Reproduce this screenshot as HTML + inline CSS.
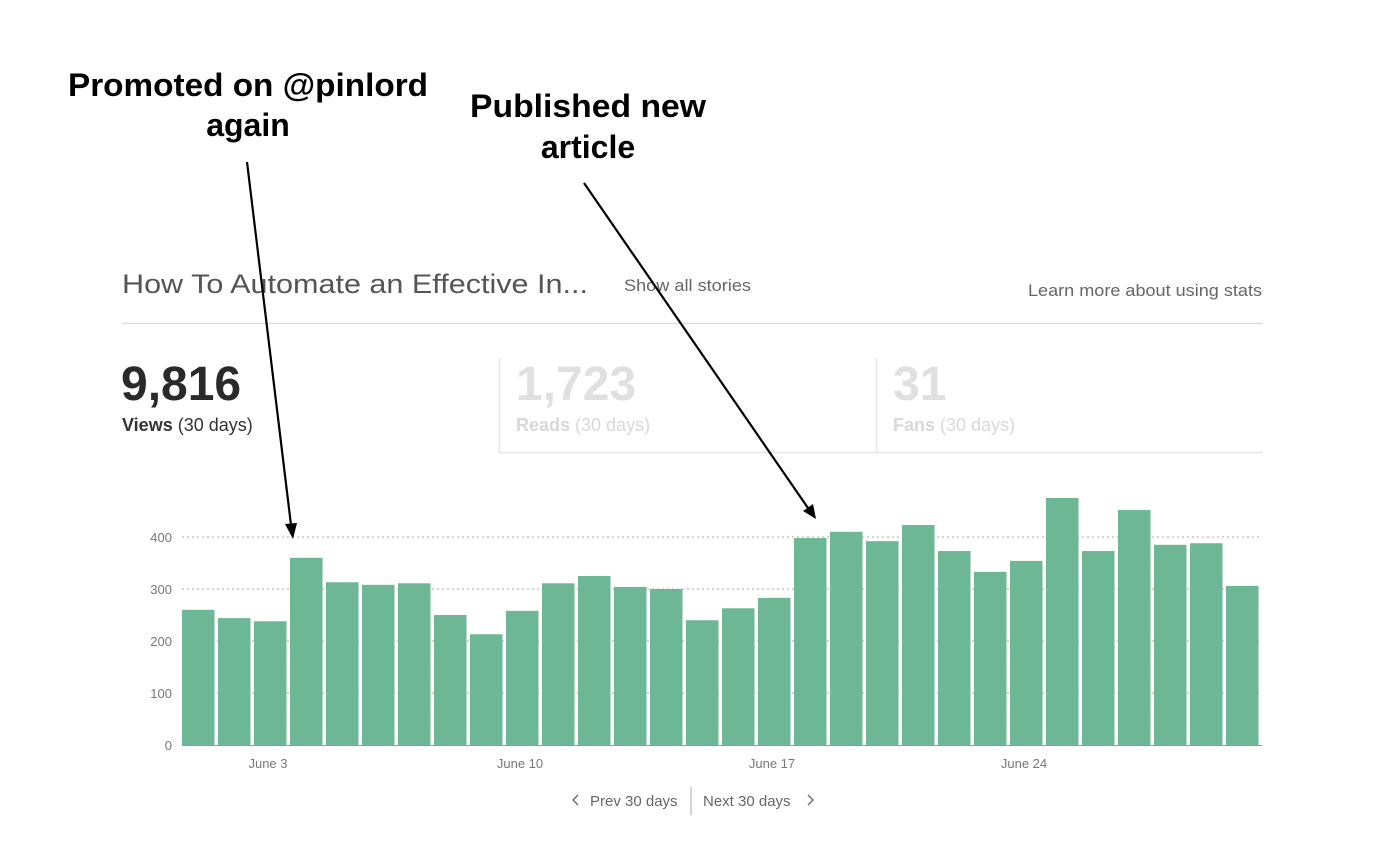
<!DOCTYPE html>
<html><head><meta charset="utf-8"><style>
html,body{margin:0;padding:0;background:#fff;}
svg{display:block;}
</style></head><body>
<svg width="1400" height="846" viewBox="0 0 1400 846" xmlns="http://www.w3.org/2000/svg" font-family="Liberation Sans, sans-serif">
<rect width="1400" height="846" fill="#fff"/>
<text x="122" y="293" font-size="27" fill="#555" textLength="466" lengthAdjust="spacingAndGlyphs">How To Automate an Effective In...</text>
<text x="624" y="291" font-size="17" fill="#666" textLength="127" lengthAdjust="spacingAndGlyphs">Show all stories</text>
<text x="1028" y="296" font-size="17" fill="#666" textLength="234" lengthAdjust="spacingAndGlyphs">Learn more about using stats</text>
<line x1="122" y1="323.5" x2="1263" y2="323.5" stroke="#ddd" stroke-width="1.5"/>
<text x="121" y="400" font-size="48" font-weight="bold" fill="#2a2a2a">9,816</text>
<text x="122" y="431" font-size="18" fill="#333"><tspan font-weight="bold">Views</tspan> (30 days)</text>
<path d="M499.5 358 V452.5 H1263 M876.5 358 V452" stroke="#e6e6e6" stroke-width="1.5" fill="none"/>
<text x="516" y="400" font-size="48" font-weight="bold" fill="#e0e0e0">1,723</text>
<text x="516" y="431" font-size="18" fill="#d8d8d8"><tspan font-weight="bold">Reads</tspan> (30 days)</text>
<text x="893" y="400" font-size="48" font-weight="bold" fill="#e0e0e0">31</text>
<text x="893" y="431" font-size="18" fill="#d8d8d8"><tspan font-weight="bold">Fans</tspan> (30 days)</text>
<g stroke="#bbb" stroke-width="1.3" stroke-dasharray="2,3">
<line x1="182" y1="537" x2="1262" y2="537"/><line x1="182" y1="589" x2="1262" y2="589"/>
<line x1="182" y1="641" x2="1262" y2="641"/><line x1="182" y1="693" x2="1262" y2="693"/>
</g>
<g font-size="13" fill="#777" text-anchor="end">
<text x="172" y="542">400</text><text x="172" y="594">300</text><text x="172" y="646">200</text><text x="172" y="698">100</text><text x="172" y="750">0</text>
</g>
<g fill="#6db797" id="bars"></g>
<line x1="182" y1="745.5" x2="1262" y2="745.5" stroke="#999" stroke-width="1"/>
<g font-size="13" fill="#777" text-anchor="middle">
<text x="268" y="768">June 3</text><text x="520" y="768">June 10</text><text x="772" y="768">June 17</text><text x="1024" y="768">June 24</text>
</g>
<text x="590" y="806" font-size="15" fill="#666">Prev 30 days</text>
<path d="M578 795 l-5 5 l5 5" stroke="#666" fill="none" stroke-width="1.3"/>
<line x1="691" y1="787" x2="691" y2="815" stroke="#aaa"/>
<text x="703" y="806" font-size="15" fill="#666">Next 30 days</text>
<path d="M808 795 l5 5 l-5 5" stroke="#666" fill="none" stroke-width="1.3"/>
<g font-size="32" font-weight="bold" fill="#000" text-anchor="middle">
<text x="248" y="96" textLength="360" lengthAdjust="spacingAndGlyphs">Promoted on @pinlord</text><text x="248" y="136">again</text>
<text x="588" y="117" textLength="236" lengthAdjust="spacingAndGlyphs">Published new</text><text x="588" y="158">article</text>
</g>
<g stroke="#000" stroke-width="2.2">
<line x1="247" y1="162" x2="291" y2="525"/>
<line x1="584" y1="183" x2="808" y2="508"/>
</g>
<polygon points="293,539 285,524 297,523" fill="#000"/>
<polygon points="816,519 803,511 813,504" fill="#000"/>
</svg>
<script>
var v=[260,244,238,360,313,308,311,250,213,258,311,325,304,300,240,263,283,398,410,392,423,373,333,354,475,373,452,385,388,306];
var g=document.getElementById('bars'),s='';
for(var i=0;i<30;i++){var h=v[i]*0.52;var x=182+i*36;
s+='<rect x="'+x+'" y="'+(745-h)+'" width="32.5" height="'+h+'"/>';}
g.innerHTML=s;
</script>
</body></html>
